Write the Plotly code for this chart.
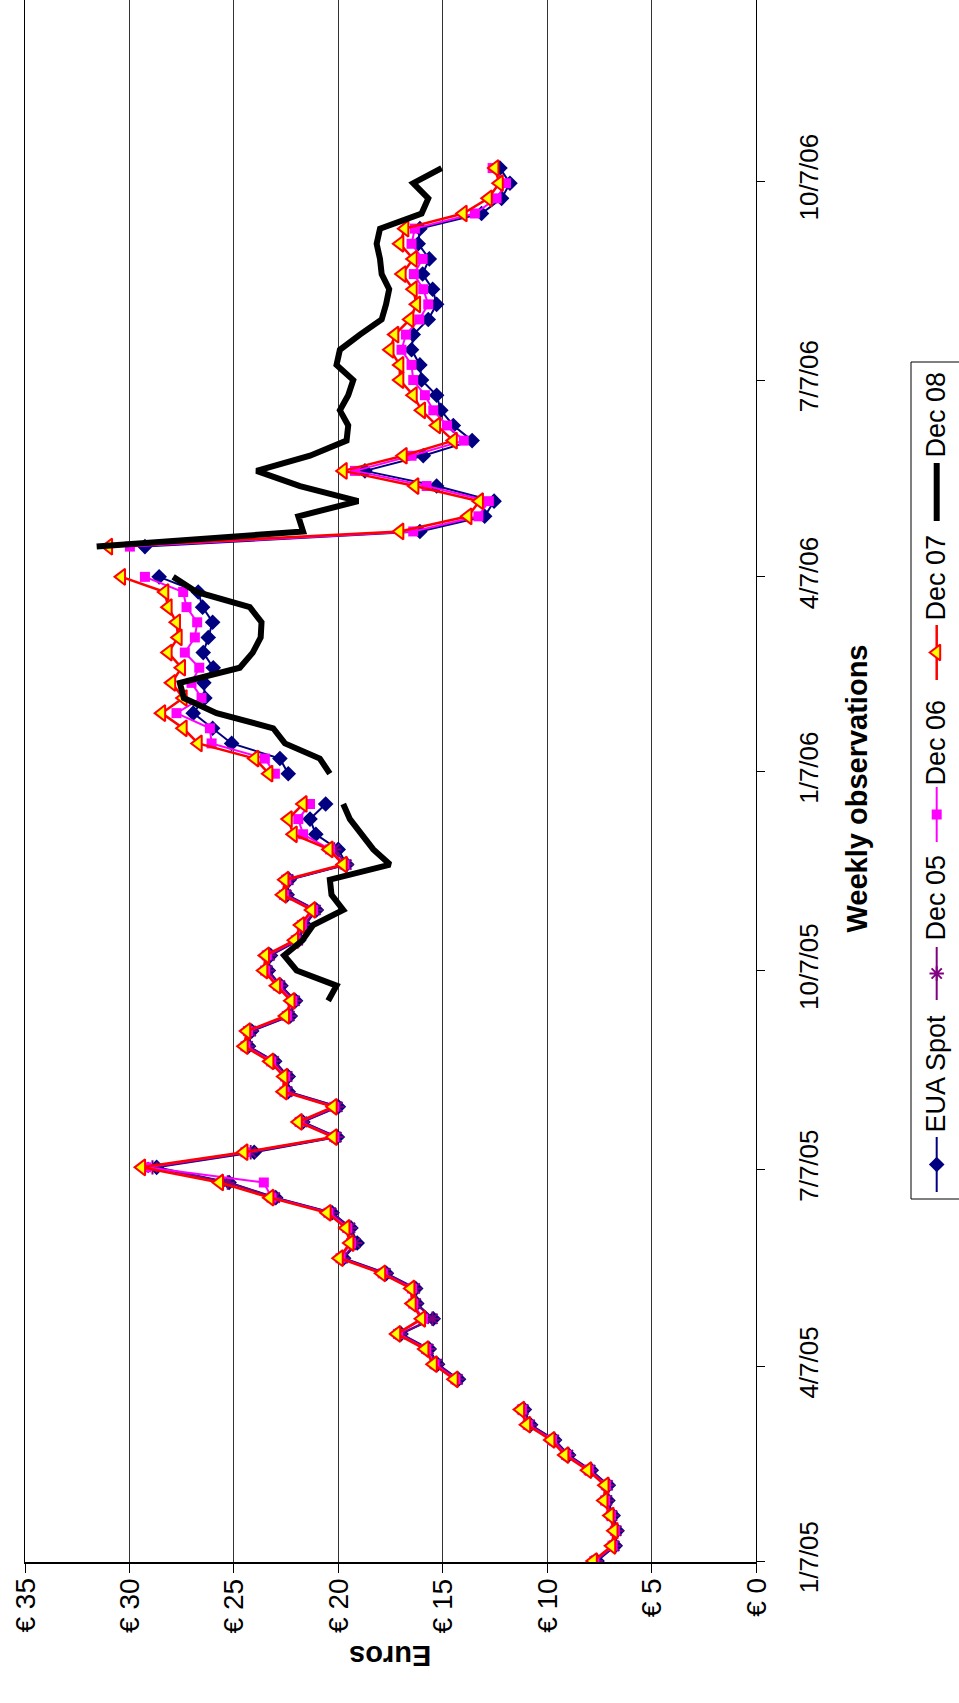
import pandas as pd
import plotly.graph_objects as go

# ---------------------------------------------------------------------------
# Weekly (Friday) EUA prices, EUR per tonne. None = no trading that week.
# ---------------------------------------------------------------------------
spot_start = "2005-01-07"
spot = [
    7.62, 6.75, 6.66, 6.85, 7.10, 7.08, 7.90, 8.98, 9.65, 10.80, 11.10, None,
    14.25, 15.25, 15.65, 17.00, 15.46, 16.25, 16.30, 17.70, 19.75, 19.10, 19.40, 20.30, 23.00,
    25.23, 28.70, 24.03, 20.05, 21.70, 20.00, 22.40, 22.40, 23.05, 24.30, 24.15, 22.30, 22.05, 22.75,
    23.35, 23.25, 21.90, 21.60, 21.05, 22.45, 22.35, 19.60, 20.01, 21.08, 21.36, 20.61, None,
    22.40, 22.80, 25.11, 26.02,
    26.95, 26.39, 26.44, 25.99,
    26.47, 26.23, 26.02, 26.50, 26.71,
    28.58, None, 29.26, 16.10,
    13.00, 12.55, 15.30, 18.73,
    15.94, 13.60, 14.50, 15.10, 15.30,
    16.02, 16.10, 16.50, 16.42,
    15.70, 15.30, 15.49, 15.97,
    15.65, 16.18, 16.10, 13.15, 12.19,
    11.79, 12.27,
]

dec05_start = "2005-01-07"
dec05 = [
    7.68, 6.80, 6.70, 6.90, 7.15, 7.12, 7.95, 9.02, 9.70, 10.85, 11.15, None,
    14.30, 15.30, 15.70, 17.05, 15.50, 16.30, 16.35, 17.75, 19.80, 19.20, 19.45, 20.35, 23.05,
    25.30, 28.90, 24.20, 20.10, 21.75, 20.05, 22.45, 22.45, 23.10, 24.35, 24.20, 22.35, 22.10, 22.80,
    23.40, 23.30, 21.95, 21.65, 21.10, 22.50, 22.40, 19.62, 20.20,
]

dec06_start = "2005-01-07"
dec06 = [
    7.75, 6.88, 6.77, 6.96, 7.24, 7.20, 8.02, 9.10, 9.78, 10.94, 11.22, None,
    14.40, 15.40, 15.80, 17.15, 15.96, 16.42, 16.48, 17.88, 19.90, 19.40, 19.58, 20.48, 23.20,
    23.57, 29.20, 24.45, 20.20, 21.86, 20.20, 22.58, 22.55, 23.22, 24.45, 24.33, 22.47, 22.21, 22.90,
    23.51, 23.43, 22.04, 21.75, 21.22, 22.61, 22.50, 19.72, 20.40, 21.69, 21.92, 21.36, None,
    23.04, 23.52, 26.07, 26.15,
    27.75, 26.55, 27.03, 26.66,
    27.35, 26.87, 26.76, 27.27, 27.43,
    29.26, None, 29.98, 16.42,
    13.30, 12.80, 15.78, 19.21,
    16.50, 14.00, 14.80, 15.46, 15.86,
    16.42, 16.50, 16.98, 16.77,
    16.13, 15.70, 15.94, 16.39,
    15.97, 16.50, 16.34, 13.47, 12.43,
    11.98, 12.62,
]

dec07_start = "2005-01-07"
dec07 = [
    7.80, 6.92, 6.81, 7.00, 7.29, 7.24, 8.07, 9.16, 9.83, 10.99, 11.28, None,
    14.46, 15.46, 15.86, 17.21, 16.02, 16.47, 16.53, 17.93, 19.96, 19.45, 19.64, 20.54, 23.28,
    25.69, 29.42, 24.52, 20.25, 21.92, 20.25, 22.64, 22.61, 23.28, 24.51, 24.39, 22.53, 22.27, 22.96,
    23.57, 23.49, 22.10, 21.81, 21.28, 22.67, 22.56, 19.77, 20.45, 22.16, 22.40, 21.69, None,
    23.33, 24.00, 26.71, 27.43,
    28.46, 27.43, 27.98, 27.51,
    28.15, 27.67, 27.75, 28.15, 28.31,
    30.38, None, 31.00, 17.06,
    13.80, 13.25, 16.34, 19.77,
    16.90, 14.50, 15.30, 16.02, 16.42,
    17.06, 17.06, 17.53, 17.30,
    16.58, 16.26, 16.42, 16.95,
    16.42, 17.06, 16.82, 14.03, 12.83,
    12.30, 12.51,
]

dec08_start = "2005-09-23"
dec08 = [
    20.49, 20.09, 22.00, 22.60, 21.72, 21.21, 19.77, 20.33, 20.41, 17.53, 18.33, 18.90, 19.45, 19.77, None,
    20.41, 20.89, 22.56, 23.12,
    25.83, 27.40, 27.59, 24.72,
    24.10, 23.72, 23.68, 24.24, 26.79,
    27.91, None, 31.57, 21.69,
    21.92, 19.05, 21.84, 23.92,
    21.36, 19.61, 19.53, 19.93, 19.53,
    19.29, 20.09, 19.93, 18.97,
    17.93, 17.72, 17.57, 17.93,
    18.01, 18.17, 18.01, 16.02, 15.70,
    16.42, 15.06,
]

euro_ticks = [0, 5, 10, 15, 20, 25, 30, 35]
euro_labels = ["€ 0", "€ 5", "€ 10", "€ 15", "€ 20", "€ 25", "€ 30", "€ 35"]

date_ticks = ["2005-01-07", "2005-04-07", "2005-07-07", "2005-10-07",
              "2006-01-07", "2006-04-07", "2006-07-07", "2006-10-07"]
date_labels = ["1/7/05", "4/7/05", "7/7/05", "10/7/05",
               "1/7/06", "4/7/06", "7/7/06", "10/7/06"]

series_names = ["EUA Spot", "Dec 05", "Dec 06", "Dec 07", "Dec 08"]

# ---------------------------------------------------------------------------
W, H = 959, 1703
FONT = "Liberation Sans, Arial, sans-serif"

# plot rectangle in page pixels (the chart is laid out sideways:
# dates run bottom-to-top, euros run right-to-left)
PX0, PX1 = 25.0, 756.3
PY0, PY1 = 0.0, 1562.0

styles = {
    "EUA Spot": dict(line=dict(color="#000080", width=2),
                     marker=dict(symbol="diamond", size=12, color="#000080")),
    "Dec 05": dict(line=dict(color="#800080", width=2),
                   marker=dict(symbol="asterisk-open", size=12, color="#800080",
                               line=dict(color="#800080", width=2))),
    "Dec 06": dict(line=dict(color="#FF00FF", width=2),
                   marker=dict(symbol="square", size=10, color="#FF00FF")),
    "Dec 07": dict(line=dict(color="#FF0000", width=2.5),
                   marker=dict(symbol="triangle-left", size=14, color="#FFFF00",
                               line=dict(color="#FF0000", width=2))),
    "Dec 08": dict(line=dict(color="#000000", width=6)),
}

data = {
    "EUA Spot": (spot_start, spot),
    "Dec 05": (dec05_start, dec05),
    "Dec 06": (dec06_start, dec06),
    "Dec 07": (dec07_start, dec07),
    "Dec 08": (dec08_start, dec08),
}

fig = go.Figure()

for name in series_names:
    start, vals = data[name]
    dates = pd.date_range(start, periods=len(vals), freq="7D")
    st = styles[name]
    mode = "lines+markers" if "marker" in st else "lines"
    fig.add_trace(go.Scatter(
        x=vals, y=dates, mode=mode, name=name, connectgaps=False,
        line=st["line"], marker=st.get("marker"),
        xaxis="x", yaxis="y", showlegend=False,
    ))

# ---- euro tick labels, rotated to read bottom-to-top under each tick ----
EURO_LABEL_TOP = 1576
for v, lab in zip(euro_ticks, euro_labels):
    fig.add_annotation(
        x=v, xref="x", y=1 - EURO_LABEL_TOP / H, yref="paper", text=lab,
        showarrow=False, textangle=-90, xanchor="center", yanchor="top",
        font=dict(family=FONT, size=28, color="black"),
    )

# ---- hand-built legend (rotated to follow the sideways layout) ----
# key positions in page pixels: (line y0, line y1, text centre y)
legend_keys = {
    "EUA Spot": (1137, 1192, 1074),
    "Dec 05": (947, 1000, 898),
    "Dec 06": (787, 842, 743),
    "Dec 07": (625, 680, 578),
    "Dec 08": (463, 521, 415),
}
KEY_X = 936.7
TEXT_X = 935.5

for name in series_names:
    y0, y1, ty = legend_keys[name]
    st = styles[name]
    fig.add_trace(go.Scatter(
        x=[KEY_X, KEY_X], y=[y0, y1], mode="lines", line=st["line"],
        xaxis="x2", yaxis="y2", showlegend=False, hoverinfo="skip",
    ))
    if "marker" in st:
        fig.add_trace(go.Scatter(
            x=[KEY_X], y=[(y0 + y1) / 2], mode="markers", marker=st["marker"],
            xaxis="x2", yaxis="y2", showlegend=False, hoverinfo="skip",
        ))
    fig.add_annotation(
        x=TEXT_X, y=ty, xref="x2", yref="y2", text=name, showarrow=False,
        textangle=-90, xanchor="center", yanchor="middle",
        font=dict(family=FONT, size=27, color="black"),
    )

fig.add_shape(type="rect", xref="x2", yref="y2", x0=911, x1=990, y0=362, y1=1199,
              line=dict(color="black", width=1), fillcolor="rgba(0,0,0,0)", layer="below")

# ---- axis titles ----
fig.add_annotation(
    x=856.5, y=789, xref="x2", yref="y2", text="<b>Weekly observations</b>",
    showarrow=False, textangle=-90, xanchor="center", yanchor="middle",
    font=dict(family=FONT, size=29, color="black"),
)
fig.add_annotation(
    x=(PX0 + PX1) / 2, y=1656, xref="x2", yref="y2", text="<b>Euros</b>",
    showarrow=False, textangle=180, xanchor="center", yanchor="middle",
    font=dict(family=FONT, size=29, color="black"),
)

fig.update_layout(
    width=W, height=H,
    margin=dict(l=0, r=0, t=0, b=0, autoexpand=False),
    paper_bgcolor="white", plot_bgcolor="rgba(0,0,0,0)",
    showlegend=False,
    xaxis=dict(
        domain=[PX0 / W, PX1 / W], range=[35, 0], anchor="y",
        tickvals=euro_ticks, showticklabels=False,
        ticks="outside", ticklen=9, tickcolor="black", tickwidth=1,
        showgrid=True, gridcolor="#333333", gridwidth=1,
        showline=True, linecolor="black", linewidth=1.5, zeroline=False,
    ),
    yaxis=dict(
        domain=[1 - PY1 / H, 1 - PY0 / H], type="date", anchor="x", side="right",
        range=["2005-01-06 13:00", "2006-12-29 17:00"],
        tickvals=date_ticks, ticktext=date_labels, tickangle=-90,
        ticks="outside", ticklen=8, tickcolor="black", tickwidth=1,
        ticklabelstandoff=21,
        showgrid=False, showline=True, linecolor="black", linewidth=1, mirror=True,
        zeroline=False,
        tickfont=dict(family=FONT, size=26, color="black"),
    ),
    xaxis2=dict(domain=[0, 1], range=[0, W], anchor="y2", visible=False, fixedrange=True),
    yaxis2=dict(domain=[0, 1], range=[H, 0], anchor="x2", visible=False, fixedrange=True),
)

fig.write_html("out.html")
